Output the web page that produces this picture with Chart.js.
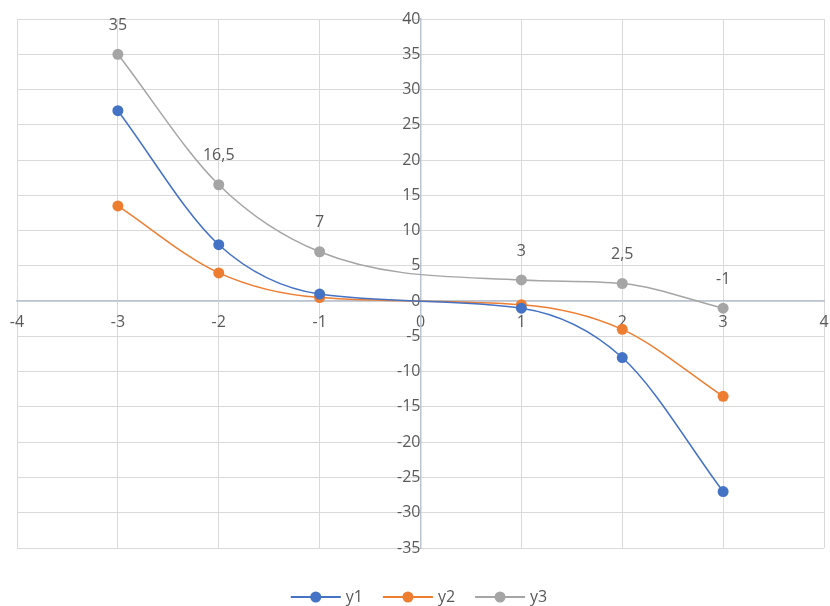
<!DOCTYPE html>
<html>
<head>
<meta charset="utf-8">
<script src="https://cdn.jsdelivr.net/npm/chart.js@4"></script>
<style>
  html, body { margin: 0; padding: 0; background: #fff; }
  #wrap { width: 830px; height: 606px; }
</style>
</head>
<body>
<div id="wrap"><canvas id="chart" width="830" height="606"></canvas></div>
<script>
// valeurs
const xs = [-3, -2, -1, 1, 2, 3];
const y1 = [27, 8, 1, -1, -8, -27];
const y2 = [13.5, 4, 0.5, -0.5, -4, -13.5];
const y3 = [35, 16.5, 7, 3, 2.5, -1];
const y3Labels = ['35', '16,5', '7', '3', '2,5', '-1'];
const seriesNames = ['y1', 'y2', 'y3'];
const seriesColors = ['#4472C4', '#ED7D31', '#A5A5A5'];

const FONT = '"Open Sans", "Noto Sans", sans-serif';
const TEXT = '#595959';

function points(ys) {
    return xs.map((x, i) => ({ x: x, y: ys[i] }));
}

function makeSet(name, ys, color) {
    return {
        label: name,
        data: points(ys),
        showLine: true,
        cubicInterpolationMode: 'monotone',
        borderColor: color,
        backgroundColor: color,
        borderWidth: 1.5,
        pointRadius: 5.5,
        pointHoverRadius: 5.5,
        pointBorderWidth: 0
    };
}

// les axes centrés ne doivent pas réserver de marge
function noPadding(scale) {
    scale.paddingLeft = 0;
    scale.paddingRight = 0;
    scale.paddingTop = 0;
    scale.paddingBottom = 0;
}

// étiquettes de données pour y3
const dataLabels = {
    id: 'dataLabels',
    afterDatasetsDraw(chart) {
        const ctx = chart.ctx;
        const meta = chart.getDatasetMeta(2);
        ctx.save();
        ctx.font = '16px ' + FONT;
        ctx.fillStyle = TEXT;
        ctx.textAlign = 'center';
        ctx.textBaseline = 'middle';
        meta.data.forEach((pt, i) => {
            ctx.fillText(y3Labels[i], pt.x, pt.y - 29);
        });
        ctx.restore();
    }
};

// légende façon Excel : trait + marqueur
const excelLegend = {
    id: 'excelLegend',
    afterDraw(chart) {
        const ctx = chart.ctx;
        ctx.save();
        ctx.font = '16px ' + FONT;
        const lineW = 50, gap = 5, spacing = 20;
        const widths = seriesNames.map(n => lineW + gap + ctx.measureText(n).width);
        const total = widths.reduce((a, b) => a + b, 0) + spacing * (seriesNames.length - 1);
        let x = (chart.width - total) / 2 + 4;
        const y = 597;
        seriesNames.forEach((name, i) => {
            ctx.strokeStyle = seriesColors[i];
            ctx.lineWidth = 2;
            ctx.beginPath();
            ctx.moveTo(x, y);
            ctx.lineTo(x + lineW, y);
            ctx.stroke();
            ctx.fillStyle = seriesColors[i];
            ctx.beginPath();
            ctx.arc(x + lineW / 2, y, 5.5, 0, Math.PI * 2);
            ctx.fill();
            ctx.fillStyle = TEXT;
            ctx.textAlign = 'left';
            ctx.textBaseline = 'middle';
            ctx.fillText(name, x + lineW + gap, y);
            x += widths[i] + spacing;
        });
        ctx.restore();
    }
};

const ctx = document.getElementById('chart').getContext('2d');
new Chart(ctx, {
    type: 'scatter',
    data: {
        datasets: [
            makeSet(seriesNames[0], y1, seriesColors[0]),
            makeSet(seriesNames[1], y2, seriesColors[1]),
            makeSet(seriesNames[2], y3, seriesColors[2])
        ]
    },
    options: {
        responsive: false,
        animation: false,
        layout: { padding: { left: 17, right: 6, top: 19, bottom: 58 } },
        plugins: {
            legend: { display: false },
            tooltip: { enabled: false }
        },
        scales: {
            x: {
                type: 'linear',
                position: { y: 0 },
                min: -4,
                max: 4,
                afterFit: noPadding,
                ticks: { stepSize: 1, color: TEXT, font: { family: FONT, size: 16 }, padding: 12 },
                grid: { color: '#D9D9D9', drawTicks: false },
                border: { color: '#BCC4D4', width: 1.5 }
            },
            y: {
                type: 'linear',
                position: { x: 0 },
                min: -35,
                max: 40,
                afterFit: noPadding,
                ticks: { stepSize: 5, color: TEXT, font: { family: FONT, size: 16 }, padding: 16 },
                grid: { color: '#D9D9D9', drawTicks: false },
                border: { color: '#BCC4D4', width: 1.5 }
            }
        }
    },
    plugins: [dataLabels, excelLegend]
});
</script>
</body>
</html>
